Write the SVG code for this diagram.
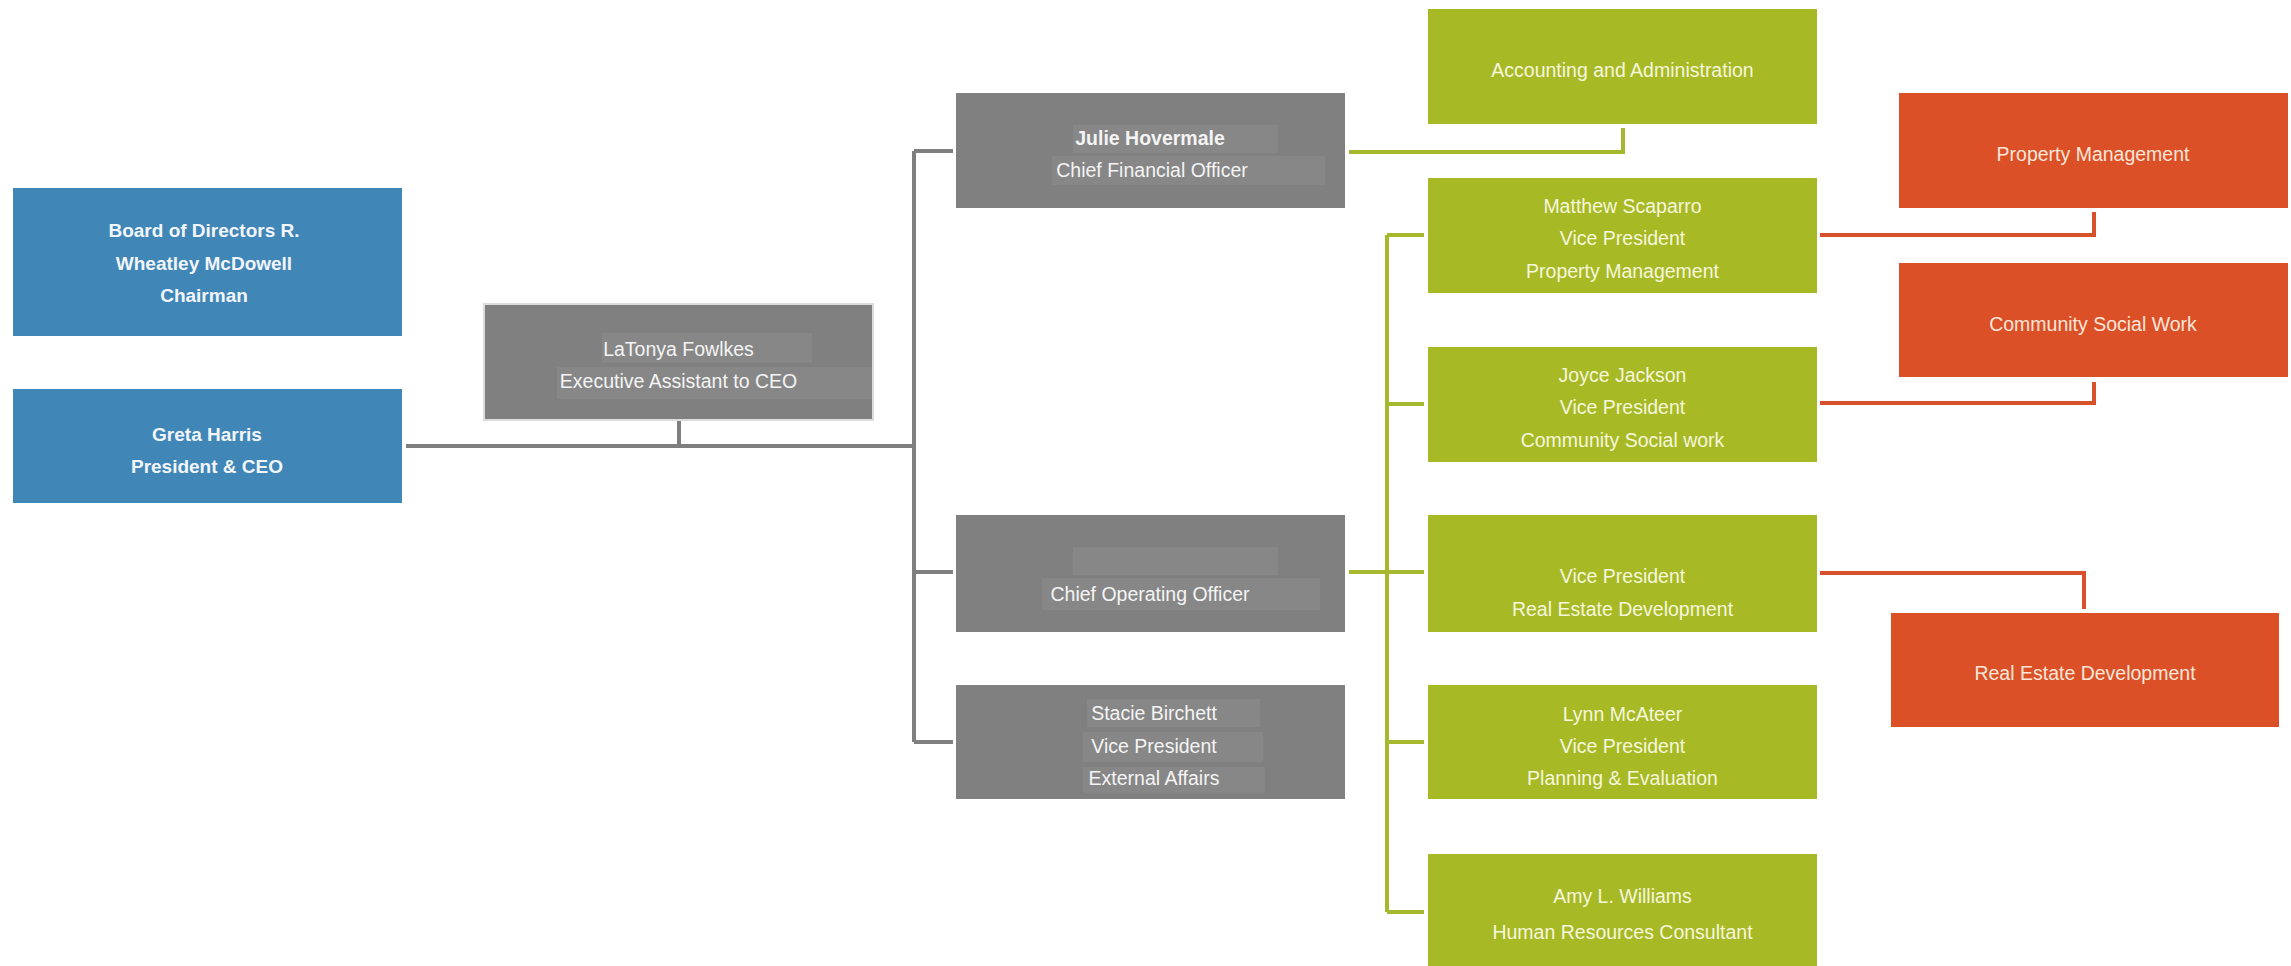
<svg xmlns="http://www.w3.org/2000/svg" width="2291" height="966" viewBox="0 0 2291 966">
<style>
.blue{fill:#4086b7}
.gray{fill:#808080}
.hl{fill:#878787}
.green{fill:#a8b926}
.red{fill:#dc5027}
text{font-family:"Liberation Sans",Arial,sans-serif;font-size:19.5px;text-anchor:middle}
.tb{fill:#f2f6fa;font-weight:bold;font-size:19px}
.tg{fill:#f4f4f4}
.tgr{fill:#f5f7dc}
.tr{fill:#fbe6da}
.cg{stroke:#7f7f7f;stroke-width:4;fill:none}
.cgr{stroke:#a6b92e;stroke-width:4;fill:none}
.cr{stroke:#d9512a;stroke-width:4;fill:none}
</style>
<rect width="2291" height="966" fill="#ffffff"/>
<g id="connectors">
<path class="cg" d="M406 446 H914 M679 420 V446 M914 151 V742 M914 151 H953 M914 572 H953 M914 742 H953"/>
<path class="cgr" d="M1349 152 H1623 V128"/>
<path class="cgr" d="M1349 572 H1424 M1387 235 V912 M1387 235 H1424 M1387 404 H1424 M1387 742 H1424 M1387 912 H1424"/>
<path class="cr" d="M1820 235 H2094 V212 M1820 403 H2094 V382 M1820 573 H2084 V609"/>
</g>
<g id="board">
<rect class="blue" x="13" y="188" width="389" height="148"/>
<text class="tb" x="204" y="237">Board of Directors R.</text>
<text class="tb" x="204" y="270">Wheatley McDowell</text>
<text class="tb" x="204" y="302">Chairman</text>
</g>
<g id="ceo">
<rect class="blue" x="13" y="389" width="389" height="114"/>
<text class="tb" x="207" y="441">Greta Harris</text>
<text class="tb" x="207" y="473">President &amp; CEO</text>
</g>
<g id="assistant">
<rect class="gray" x="484" y="304" width="389" height="116" stroke="#dcdcdc" stroke-width="2"/>
<rect class="hl" x="602" y="333" width="210" height="30"/>
<rect class="hl" x="557" y="367" width="315" height="32"/>
<text class="tg" x="678.5" y="356">LaTonya Fowlkes</text>
<text class="tg" x="678.5" y="388">Executive Assistant to CEO</text>
</g>
<g id="cfo">
<rect class="gray" x="956" y="93" width="389" height="115"/>
<rect class="hl" x="1073" y="125" width="205" height="28"/>
<rect class="hl" x="1052" y="156" width="273" height="29"/>
<text class="tg" x="1150" y="145" font-weight="bold">Julie Hovermale</text>
<text class="tg" x="1152" y="177">Chief Financial Officer</text>
</g>
<g id="coo">
<rect class="gray" x="956" y="515" width="389" height="117"/>
<rect class="hl" x="1073" y="547" width="205" height="28"/>
<rect class="hl" x="1042" y="578" width="278" height="32"/>
<text class="tg" x="1150" y="601">Chief Operating Officer</text>
</g>
<g id="external">
<rect class="gray" x="956" y="685" width="389" height="114"/>
<rect class="hl" x="1087" y="699" width="173" height="28"/>
<rect class="hl" x="1083" y="732" width="180" height="30"/>
<rect class="hl" x="1083" y="767" width="182" height="26"/>
<text class="tg" x="1154" y="720">Stacie Birchett</text>
<text class="tg" x="1154" y="753">Vice President</text>
<text class="tg" x="1154" y="785">External Affairs</text>
</g>
<g id="accounting">
<rect class="green" x="1428" y="9" width="389" height="115"/>
<text class="tgr" x="1622.5" y="77">Accounting and Administration</text>
</g>
<g id="vp-property">
<rect class="green" x="1428" y="178" width="389" height="115"/>
<text class="tgr" x="1622.5" y="213">Matthew Scaparro</text>
<text class="tgr" x="1622.5" y="245">Vice President</text>
<text class="tgr" x="1622.5" y="278">Property Management</text>
</g>
<g id="vp-community">
<rect class="green" x="1428" y="347" width="389" height="115"/>
<text class="tgr" x="1622.5" y="382">Joyce Jackson</text>
<text class="tgr" x="1622.5" y="414">Vice President</text>
<text class="tgr" x="1622.5" y="447">Community Social work</text>
</g>
<g id="vp-realestate">
<rect class="green" x="1428" y="515" width="389" height="117"/>
<text class="tgr" x="1622.5" y="583">Vice President</text>
<text class="tgr" x="1622.5" y="616">Real Estate Development</text>
</g>
<g id="vp-planning">
<rect class="green" x="1428" y="685" width="389" height="114"/>
<text class="tgr" x="1622.5" y="721">Lynn McAteer</text>
<text class="tgr" x="1622.5" y="753">Vice President</text>
<text class="tgr" x="1622.5" y="785">Planning &amp; Evaluation</text>
</g>
<g id="hr">
<rect class="green" x="1428" y="854" width="389" height="112"/>
<text class="tgr" x="1622.5" y="903">Amy L. Williams</text>
<text class="tgr" x="1622.5" y="939">Human Resources Consultant</text>
</g>
<g id="dept-property">
<rect class="red" x="1899" y="93" width="389" height="115"/>
<text class="tr" x="2093" y="161">Property Management</text>
</g>
<g id="dept-community">
<rect class="red" x="1899" y="263" width="389" height="114"/>
<text class="tr" x="2093" y="331">Community Social Work</text>
</g>
<g id="dept-realestate">
<rect class="red" x="1891" y="613" width="388" height="114"/>
<text class="tr" x="2085" y="680">Real Estate Development</text>
</g>
</svg>
